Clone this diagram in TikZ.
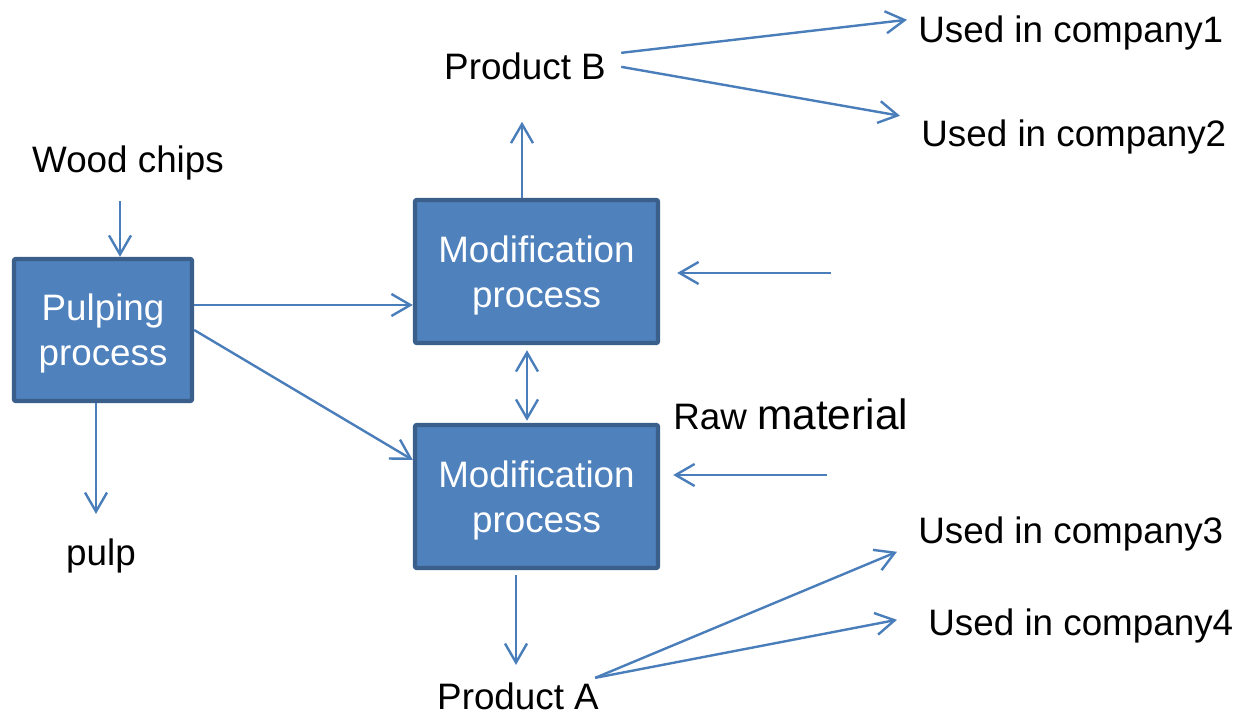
\documentclass[tikz,border=0pt]{standalone}
\usepackage{fontspec}
\setmainfont{Liberation Sans}
\usetikzlibrary{arrows.meta,calc}
\definecolor{boxfill}{HTML}{4F81BD}
\definecolor{boxline}{HTML}{3A5F8B}
\definecolor{flowline}{HTML}{4A7EBB}

\begin{document}
\begin{tikzpicture}[x=0.5pt,y=-0.5pt,>={Straight Barb[length=9.5pt,width=11pt]},
  box/.style={draw=boxline,fill=boxfill,line width=2.2pt,rounded corners=1pt,text=white,
    align=center,inner sep=0pt,text depth=0pt,font=\fontsize{18.4}{22.5}\selectfont},
  lbl/.style={inner sep=0pt,anchor=base,font=\fontsize{18.4}{21}\selectfont},
  flow/.style={->,draw=flowline,line width=1.2pt}]
\useasboundingbox (0,0) rectangle (1241,715);

% process boxes
\node[box,minimum width=89pt,minimum height=71pt] (pulp) at (103,330) {Pulping\\process};
\node[box,minimum width=121.5pt,minimum height=71.5pt] (mod1) at (536.5,271.5) {Modification\\process};
\node[box,minimum width=121.5pt,minimum height=71.5pt] (mod2) at (536.5,496.5) {Modification\\process};

% labels
\node[lbl] (chips) at (128,173) {Wood chips};
\node[lbl] (pulpout) at (101,565) {pulp};
\node[lbl] (prodB) at (525,80) {Product B};
\node[lbl] (prodA) at (518,709) {Product A};
\node[lbl,anchor=base west] (use1) at (918,43) {Used in company1};
\node[lbl,anchor=base west] (use2) at (921,147) {Used in company2};
\node[lbl,anchor=base west] (use3) at (918,543) {Used in company3};
\node[lbl,anchor=base west] (use4) at (928,635) {Used in company4};
\node[lbl,anchor=base west] (raw) at (673,430) {Raw {\fontsize{21.2}{24}\selectfont material}};

% raw material feeds
\coordinate (feed1) at (831,273);
\coordinate (feed2) at (827,475);

% flows
\draw[flow] ($(chips.south)+(-8,20)$) -- ($(pulp.north)+(17,0)$);
\draw[flow] ($(pulp.east)+(0,-25)$) -- ($(mod1.west)+(0,33.5)$);
\draw[flow] (pulp.east) -- ($(mod2.west)+(0,-36.5)$);
\draw[flow] ($(pulp.south)+(-7,0)$) -- ($(pulpout.north)+(-5,-24)$);
\draw[flow] ($(mod1.north)+(-14.5,0)$) -- ($(prodB.south)+(-3,41)$);
\draw[flow,<->] ($(mod1.south)+(-9.5,5)$) -- ($(mod2.north)+(-9.5,-2)$);
\draw[flow,shorten >=8.5pt] (feed1) -- (feed1 -| mod1.east);
\draw[flow,shorten >=6.5pt] (feed2) -- (feed2 -| mod2.east);
\draw[flow] ($(mod2.south)+(-20.5,5)$) -- ($(prodA.north)+(-2,-17)$);

% where the products go
\draw[flow] ($(prodB.east)+(15,-14)$) -- ($(use1.west)+(-11,-13.7)$);
\draw[flow] ($(prodB.east)+(15,0)$) -- ($(use2.west)+(-21,-21.7)$);
\draw[flow] ($(prodA.east)+(-4,-18)$) -- ($(use3.west)+(-21,18.3)$);
\draw[flow] ($(prodA.east)+(-4,-18)$) -- ($(use4.west)+(-31,-5.7)$);

\end{tikzpicture}
\end{document}
